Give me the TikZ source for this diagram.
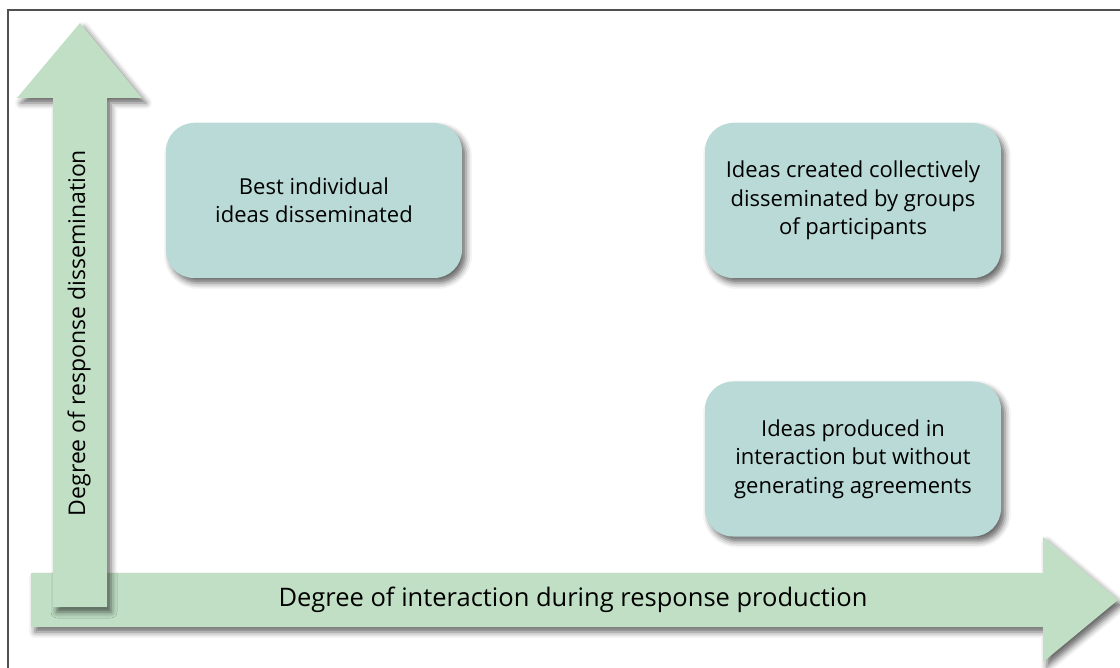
\documentclass[tikz,border=0pt]{standalone}
\usepackage{fontspec}
\setmainfont{Open Sans}
\usetikzlibrary{shadows.blur}
\definecolor{arrowgreen}{RGB}{192,223,197}
\definecolor{boxteal}{RGB}{185,218,214}
\definecolor{framegray}{RGB}{80,80,80}
\tikzset{
  myshadow/.style={blur shadow={shadow xshift=4pt, shadow yshift=-5pt, shadow blur radius=6pt, shadow opacity=60}},
  arrowshape/.style={fill=arrowgreen, draw=none, myshadow},
  ideabox/.style={fill=boxteal, draw=none, rounded corners=28pt, minimum width=296pt, minimum height=155pt, align=center, font=\fontsize{22}{28.5}\selectfont, text=black, myshadow},
  axislabel/.style={text=black}
}
\begin{document}
\begin{tikzpicture}[x=1pt, y=-1pt]
\useasboundingbox (0,0) rectangle (1120,668);
% frame
\draw[framegray, line width=1.5pt] (8,700) -- (8,10) -- (1130,10);
% horizontal arrow
\fill[arrowshape] (31,573) -- (1043,573) -- (1043,537) -- (1118,600) -- (1043,662) -- (1043,627) -- (31,627) -- cycle;
% vertical arrow
\fill[arrowshape] (53,607) -- (53,98) -- (17,98) -- (80,23) -- (142,98) -- (107,98) -- (107,607) -- cycle;
\node[axislabel, font=\fontsize{25.5}{30}\selectfont] (xlabel) at (573,600) {Degree of interaction during response production};
\node[axislabel, font=\fontsize{23}{27}\selectfont, rotate=90] (ylabel) at (79,333) {Degree of response dissemination};
% boxes
\node[ideabox] (best) at (314,200.5) {Best individual\\ideas disseminated};
\node[ideabox] (collective) at (853,200.5) {Ideas created collectively\\disseminated by groups\\of participants};
\node[ideabox] (interaction) at (853,459) {Ideas produced in\\interaction but without\\generating agreements};
\end{tikzpicture}
\end{document}
